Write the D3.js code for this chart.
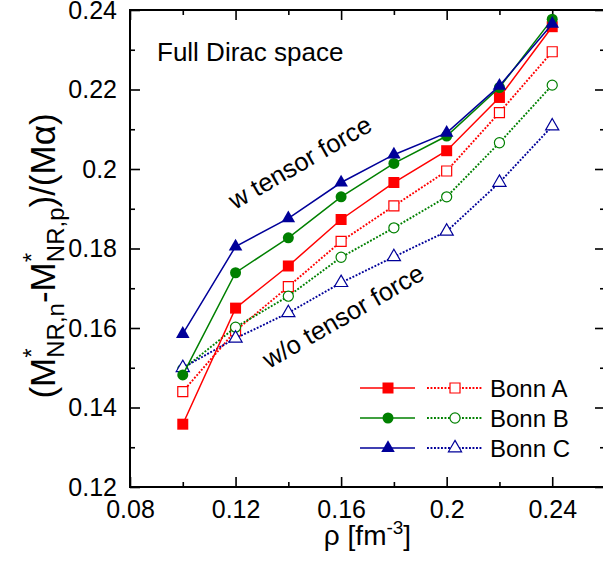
<!DOCTYPE html>
<html>
  <head>
    <meta charset="utf-8">
    <title>Full Dirac space</title>
    <script src="https://d3js.org/d3.v7.min.js"></script>
    <style>
      body { margin: 0; background: #fff; }
      text { font-family: "Liberation Sans", Arial, sans-serif; fill: #000; }
    </style>
  </head>
  <body>
    <div id="vis"></div>
    <script>
        const width = 603;
        const height = 584;

        // density values and the six curves
        const rho = [0.10, 0.12, 0.14, 0.16, 0.18, 0.20, 0.22, 0.24];
        const bonnA_w  = [0.1358, 0.1650, 0.1756, 0.1873, 0.1966, 0.2046, 0.2180, 0.2358];
        const bonnB_w  = [0.1482, 0.1739, 0.1827, 0.1930, 0.2014, 0.2083, 0.2205, 0.2377];
        const bonnC_w  = [0.1585, 0.1805, 0.1876, 0.1966, 0.2036, 0.2091, 0.2209, 0.2365];
        const bonnA_wo = [0.1440, 0.1593, 0.1704, 0.1818, 0.1907, 0.1995, 0.2142, 0.2295];
        const bonnB_wo = [0.1496, 0.1602, 0.1680, 0.1778, 0.1852, 0.1930, 0.2066, 0.2211];
        const bonnC_wo = [0.1500, 0.1574, 0.1638, 0.1714, 0.1779, 0.1843, 0.1966, 0.2108];

        const xTicks = [0.08, 0.12, 0.16, 0.20, 0.24];
        const xMinor = [0.10, 0.14, 0.18, 0.22];
        const yTicks = [0.12, 0.14, 0.16, 0.18, 0.20, 0.22, 0.24];
        const yMinor = [0.13, 0.15, 0.17, 0.19, 0.21, 0.23];

        const names = ["Bonn A", "Bonn B", "Bonn C"];
        const colors = ["#ff0000", "#008000", "#000099"];
        const symbols = [d3.symbolSquare, d3.symbolCircle, d3.symbolTriangle];
        const filledSize = [121, 95, 80];
        const openSize = [100, 80, 75];

        const mLeft = 130, mRight = 605, mTop = 10, mBottom = 487;

        let svg = d3.select('#vis')
                    .append('svg')
                    .attr('width', width)
                    .attr('height', height);

        const x = d3.scaleLinear().domain([0.08, 0.26]).range([mLeft, mRight]);
        const y = d3.scaleLinear().domain([0.12, 0.24]).range([mBottom, mTop]);

        const fmt = d => String(+d.toFixed(2));

        // axes, ticks pointing inward on all four sides
        function addAxis(axis, tr) {
          const g = svg.append("g").attr("transform", tr).call(axis);
          g.select(".domain").remove();
          g.selectAll(".tick line").attr("stroke", "#000").attr("stroke-width", 1.6);
          g.selectAll("text").style("font-size", "25px").attr("fill", "#000");
          return g;
        }
        addAxis(d3.axisBottom(x).tickValues(xTicks).tickSize(-10).tickPadding(13).tickFormat(fmt), `translate(0,${mBottom})`);
        addAxis(d3.axisBottom(x).tickValues(xMinor).tickSize(-5), `translate(0,${mBottom})`).selectAll("text").remove();
        addAxis(d3.axisTop(x).tickValues(xTicks).tickSize(-10), `translate(0,${mTop})`).selectAll("text").remove();
        addAxis(d3.axisTop(x).tickValues(xMinor).tickSize(-5), `translate(0,${mTop})`).selectAll("text").remove();
        addAxis(d3.axisLeft(y).tickValues(yTicks).tickSize(-10).tickPadding(13).tickFormat(fmt), `translate(${mLeft},0)`);
        addAxis(d3.axisLeft(y).tickValues(yMinor).tickSize(-5), `translate(${mLeft},0)`).selectAll("text").remove();
        addAxis(d3.axisRight(y).tickValues(yTicks).tickSize(-10), `translate(${mRight},0)`).selectAll("text").remove();
        addAxis(d3.axisRight(y).tickValues(yMinor).tickSize(-5), `translate(${mRight},0)`).selectAll("text").remove();

        svg.append("rect")
           .attr("x", mLeft).attr("y", mTop)
           .attr("width", mRight - mLeft).attr("height", mBottom - mTop)
           .attr("fill", "none").attr("stroke", "#000").attr("stroke-width", 2);

        const line = d3.line().x(d => x(d[0])).y(d => y(d[1]));

        function drawSeries(vals, i, open) {
          const pts = rho.map((r, k) => [r, vals[k]]);
          svg.append("path")
             .datum(pts)
             .attr("d", line)
             .attr("fill", "none")
             .attr("stroke", colors[i])
             .attr("stroke-width", open ? 1.9 : 1.5)
             .attr("stroke-dasharray", open ? "1.9,1.6" : null);
          svg.append("g")
             .selectAll("path")
             .data(pts)
             .enter()
             .append("path")
             .attr("transform", d => `translate(${x(d[0])},${y(d[1])})`)
             .attr("d", d3.symbol().type(symbols[i]).size(open ? openSize[i] : filledSize[i]))
             .attr("fill", open ? "#fff" : colors[i])
             .attr("stroke", colors[i])
             .attr("stroke-width", open ? 1.2 : 0);
        }

        [bonnA_wo, bonnB_wo, bonnC_wo].forEach((v, i) => drawSeries(v, i, true));
        [bonnA_w, bonnB_w, bonnC_w].forEach((v, i) => drawSeries(v, i, false));

        // annotations
        svg.append("text").attr("x", 157).attr("y", 61)
           .style("font-size", "26px").text("Full Dirac space");
        svg.append("text").attr("transform", "translate(235,210) rotate(-30)")
           .style("font-size", "25.5px").text("w tensor force");
        svg.append("text").attr("transform", "translate(269,369) rotate(-30)")
           .style("font-size", "25.5px").text("w/o tensor force");

        // legend
        const legY = [388, 418, 448];
        names.forEach((n, i) => {
          const g = svg.append("g");
          g.append("line").attr("x1", 360).attr("x2", 415).attr("y1", legY[i]).attr("y2", legY[i])
           .attr("stroke", colors[i]).attr("stroke-width", 1.5);
          g.append("path").attr("transform", `translate(388,${legY[i]})`)
           .attr("d", d3.symbol().type(symbols[i]).size(filledSize[i])).attr("fill", colors[i]);
          g.append("line").attr("x1", 427).attr("x2", 482).attr("y1", legY[i]).attr("y2", legY[i])
           .attr("stroke", colors[i]).attr("stroke-width", 1.9).attr("stroke-dasharray", "1.9,1.6");
          g.append("path").attr("transform", `translate(455,${legY[i]})`)
           .attr("d", d3.symbol().type(symbols[i]).size(openSize[i]))
           .attr("fill", "#fff").attr("stroke", colors[i]).attr("stroke-width", 1.2);
          g.append("text").attr("x", 490).attr("y", legY[i] + 8.5)
           .style("font-size", "24px").text(n);
        });

        // axis titles
        const xt = svg.append("text").attr("x", (mLeft + mRight) / 2).attr("y", 545)
           .attr("text-anchor", "middle").style("font-size", "28px");
        xt.append("tspan").text("ρ [fm");
        xt.append("tspan").attr("dy", -11).style("font-size", "19px").text("-3");
        xt.append("tspan").attr("dy", 11).text("]");

        const yt = svg.append("text")
           .attr("transform", `translate(55,256) rotate(-90)`)
           .attr("text-anchor", "middle").style("font-size", "35px");
        function stackM(sub) {
          yt.append("tspan").text("M");
          yt.append("tspan").attr("dy", -15).style("font-size", "24px").text("*");
          yt.append("tspan").attr("dx", -9.3).attr("dy", 24).style("font-size", "24px").text(sub);
          yt.append("tspan").attr("dy", -9).text("\u200b");
        }
        yt.append("tspan").text("(");
        stackM("NR,n");
        yt.append("tspan").text("-");
        stackM("NR,p");
        yt.append("tspan").text(")/(Mα)");
    </script>
  </body>
</html>
